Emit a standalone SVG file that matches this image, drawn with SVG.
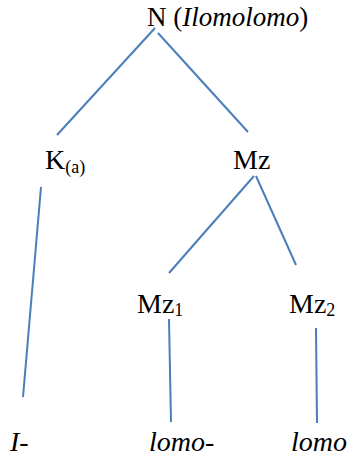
<svg xmlns="http://www.w3.org/2000/svg" width="351" height="456" viewBox="0 0 351 456">
<style>
text{font-family:"Liberation Serif","Times New Roman",serif;font-size:28px;fill:#000}
.t{font-size:27px}
.i{font-style:italic}
.s{font-size:18px}
.e{stroke:#4a7ebb;stroke-width:2;fill:none}
</style>
<rect width="351" height="456" fill="#fff"/>
<g id="edges">
<line class="e" x1="155" y1="28" x2="57" y2="135"/>
<line class="e" x1="158" y1="33" x2="248" y2="132"/>
<line class="e" x1="41" y1="187" x2="23" y2="397"/>
<line class="e" x1="254" y1="176" x2="169" y2="273"/>
<line class="e" x1="256" y1="176" x2="296" y2="265"/>
<line class="e" x1="169" y1="319" x2="171" y2="422"/>
<line class="e" x1="316" y1="328" x2="317" y2="423"/>
</g>
<g id="N"><text class="t" x="147" y="26">N (<tspan class="i">Ilomolomo</tspan>)</text></g>
<g id="K"><text x="45" y="169">K<tspan class="s" dy="4">(a)</tspan></text></g>
<g id="Mz"><text x="233" y="169">Mz</text></g>
<g id="Mz1"><text x="137" y="313">Mz<tspan class="s" dy="3">1</tspan></text></g>
<g id="Mz2"><text x="289" y="313">Mz<tspan class="s" dy="3">2</tspan></text></g>
<g id="I"><text class="i" x="10" y="451">I-</text></g>
<g id="lomo1"><text class="i" x="149" y="451">lomo-</text></g>
<g id="lomo2"><text class="i" x="291" y="451">lomo</text></g>
</svg>
